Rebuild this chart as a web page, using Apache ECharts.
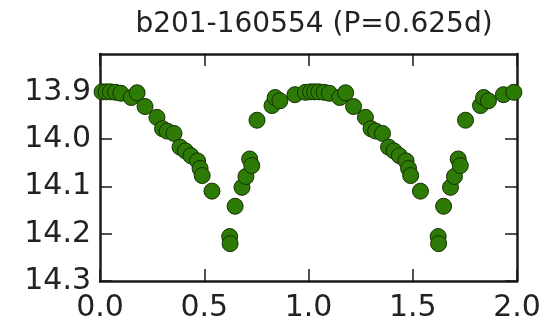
<!DOCTYPE html>
<html>
<head>
<meta charset="utf-8">
<script src="https://cdn.jsdelivr.net/npm/echarts@6/dist/echarts.min.js"></script>
<style>
html,body{margin:0;padding:0;background:#fff;}
#chart{width:551px;height:328px;}
</style>
</head>
<body>
<div id="chart"></div>
<script>
// Title
const titleText = "b201-160554 (P=0.625d)";

// Tick labels
const xTicks = [0.0, 0.5, 1.0, 1.5, 2.0];
const yTicks = [13.9, 14.0, 14.1, 14.2, 14.3];

// Phase-folded light curve, first cycle (phase 0..1)
const phaseA = [0.010, 0.030, 0.050, 0.075, 0.100, 0.150, 0.178, 0.216, 0.273, 0.300,
                0.322, 0.355, 0.384, 0.410, 0.436, 0.468, 0.480, 0.490, 0.537, 0.622,
                0.624, 0.648, 0.681, 0.700, 0.718, 0.728, 0.753, 0.825, 0.840, 0.863,
                0.935, 0.985];
const magA   = [13.900, 13.900, 13.900, 13.901, 13.903, 13.912, 13.902, 13.931, 13.954, 13.978,
                13.983, 13.988, 14.017, 14.025, 14.035, 14.046, 14.062, 14.077, 14.110, 14.206,
                14.221, 14.142, 14.102, 14.079, 14.042, 14.056, 13.960, 13.929, 13.912, 13.919,
                13.906, 13.901];

// Second cycle (phase 1..2), the same observations repeated
const phaseB = [1.010, 1.030, 1.050, 1.075, 1.100, 1.150, 1.178, 1.216, 1.273, 1.300,
                1.322, 1.355, 1.384, 1.410, 1.436, 1.468, 1.480, 1.490, 1.537, 1.622,
                1.624, 1.648, 1.681, 1.700, 1.718, 1.728, 1.753, 1.825, 1.840, 1.863,
                1.935, 1.985];
const magB   = [13.900, 13.900, 13.900, 13.901, 13.903, 13.912, 13.902, 13.931, 13.954, 13.978,
                13.983, 13.988, 14.017, 14.025, 14.035, 14.046, 14.062, 14.077, 14.110, 14.206,
                14.221, 14.142, 14.102, 14.079, 14.042, 14.056, 13.960, 13.929, 13.912, 13.919,
                13.906, 13.901];

const points = [];
phaseA.forEach((p, i) => points.push([p, magA[i]]));
phaseB.forEach((p, i) => points.push([p, magB[i]]));

const FONT = "DejaVu Sans";
const TXT = "#222";
const AX = "#1a1a1a";

const chart = echarts.init(document.getElementById('chart'), null, {renderer: 'canvas'});

const baseX = {
  type: 'value', min: 0, max: 2, interval: 0.5,
  axisLine: {show: true, onZero: false, lineStyle: {color: AX, width: 2.5}},
  axisTick: {show: true, inside: true, length: 12, lineStyle: {color: AX, width: 1.5}},
  splitLine: {show: false}
};
const baseY = {
  type: 'value', min: 13.82, max: 14.3, inverse: true,
  axisLine: {show: true, onZero: false, lineStyle: {color: AX, width: 2.5}},
  axisTick: {show: true, inside: true, length: 12, customValues: yTicks, lineStyle: {color: AX, width: 1.5}},
  splitLine: {show: false}
};

chart.setOption({
  animation: false,
  backgroundColor: '#fff',
  title: {
    text: titleText, left: 309, textAlign: 'center', top: 6,
    textStyle: {fontFamily: FONT, fontSize: 28, fontWeight: 'normal', color: TXT}
  },
  grid: {left: 100, right: 34, top: 54, bottom: 47, containLabel: false},
  xAxis: [
    Object.assign({}, baseX, {
      position: 'bottom',
      axisLabel: {show: true, margin: 12, fontFamily: FONT, fontSize: 30, color: TXT,
        customValues: xTicks, formatter: v => Number(v).toFixed(1)}
    }),
    Object.assign({}, baseX, {position: 'top', axisLabel: {show: false}})
  ],
  yAxis: [
    Object.assign({}, baseY, {
      position: 'left',
      axisLabel: {show: true, margin: 9, fontFamily: FONT, fontSize: 30, color: TXT,
        customValues: yTicks, formatter: v => Number(v).toFixed(1)}
    }),
    Object.assign({}, baseY, {position: 'right', axisLabel: {show: false}})
  ],
  series: [{
    type: 'scatter',
    xAxisIndex: 0, yAxisIndex: 0,
    data: points,
    symbol: 'circle',
    symbolSize: 16,
    clip: true,
    itemStyle: {color: '#2e7a06', borderColor: '#143000', borderWidth: 1, opacity: 1}
  }]
});
</script>
</body>
</html>
